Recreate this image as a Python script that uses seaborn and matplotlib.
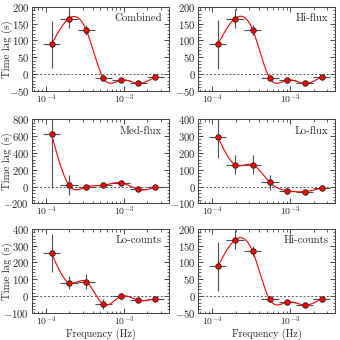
import numpy as np
import pandas as pd
import matplotlib
matplotlib.use("Agg")
import matplotlib.pyplot as plt
import seaborn as sns
from matplotlib.ticker import AutoMinorLocator, MultipleLocator

sns.set_style("ticks")
plt.rcParams['font.family'] = ['cmr10', 'DejaVu Serif']
plt.rcParams['mathtext.fontset'] = 'cm'
plt.rcParams['axes.formatter.use_mathtext'] = True

freq = [1.18e-4, 1.96e-4, 3.3e-4, 5.46e-4, 9.2e-4, 1.54e-3, 2.54e-3]
freq_lo = [0.92e-4, 1.52e-4, 2.55e-4, 4.25e-4, 7.1e-4, 1.19e-3, 1.98e-3]
freq_hi = [1.52e-4, 2.55e-4, 4.25e-4, 7.1e-4, 1.19e-3, 1.98e-3, 3.3e-3]

titles = ["Combined", "Hi-flux", "Med-flux", "Lo-flux", "Lo-counts", "Hi-counts"]
lag_combined = [88, 165, 130, -12, -18, -28, -8]
err_combined = [70, 28, 15, 5, 5, 5, 5]
lag_hiflux = [88, 165, 132, -12, -18, -28, -8]
err_hiflux = [72, 28, 15, 5, 5, 5, 5]
lag_medflux = [620, 20, -5, 15, 45, -35, -10]
err_medflux = [640, 120, 20, 20, 20, 20, 15]
lag_loflux = [295, 130, 130, 25, -25, -30, -10]
err_loflux = [125, 55, 55, 45, 20, 10, 10]
lag_locounts = [255, 80, 85, -50, -2, -25, -15]
err_locounts = [115, 40, 45, 30, 20, 10, 10]
lag_hicounts = [88, 167, 133, -10, -18, -27, -8]
err_hicounts = [72, 28, 15, 5, 5, 5, 5]

lags = [lag_combined, lag_hiflux, lag_medflux, lag_loflux, lag_locounts, lag_hicounts]
errs = [err_combined, err_hiflux, err_medflux, err_loflux, err_locounts, err_hicounts]
ylims = [(-50, 200), (-50, 200), (-200, 800), (-100, 400), (-100, 400), (-50, 200)]
ymaj = [50, 50, 200, 100, 100, 50]


def natural_spline(x, y, xn):
    x = np.asarray(x, float); y = np.asarray(y, float)
    n = len(x)
    h = np.diff(x)
    A = np.zeros((n, n)); b = np.zeros(n)
    A[0, 0] = 1; A[-1, -1] = 1
    for i in range(1, n - 1):
        A[i, i - 1] = h[i - 1]
        A[i, i] = 2 * (h[i - 1] + h[i])
        A[i, i + 1] = h[i]
        b[i] = 3 * ((y[i + 1] - y[i]) / h[i] - (y[i] - y[i - 1]) / h[i - 1])
    c = np.linalg.solve(A, b)
    out = np.empty_like(xn)
    for k, xv in enumerate(xn):
        i = min(max(np.searchsorted(x, xv) - 1, 0), n - 2)
        dx = xv - x[i]
        bi = (y[i + 1] - y[i]) / h[i] - h[i] * (2 * c[i] + c[i + 1]) / 3
        di = (c[i + 1] - c[i]) / (3 * h[i])
        out[k] = y[i] + bi * dx + c[i] * dx ** 2 + di * dx ** 3
    return out


fig = plt.figure(figsize=(3.4, 3.4), dpi=100)
lefts = [0.094, 0.583]
bottoms = [0.733, 0.402, 0.08]
w, hgt = 0.403, 0.247

logf = np.log10(freq)
for k in range(6):
    r, c = divmod(k, 2)
    ax = fig.add_axes([lefts[c], bottoms[r], w, hgt])
    y = np.array(lags[k], float)
    e = np.array(errs[k], float)
    f = np.array(freq)
    xerr = np.array([f - np.array(freq_lo), np.array(freq_hi) - f])
    ax.axhline(0, color='0.35', ls=(0, (2, 2)), lw=0.7, zorder=1)
    ax.errorbar(f, y, yerr=e, xerr=xerr, fmt='none', ecolor='0.3', elinewidth=0.8, capsize=0, zorder=2)
    xs = np.linspace(logf[0], logf[-1], 300)
    ys = natural_spline(logf, y, xs)
    curve = pd.DataFrame({'f': 10 ** xs, 'lag': ys})
    sns.lineplot(data=curve, x='f', y='lag', color='red', lw=0.8, ax=ax, zorder=3)
    pts = pd.DataFrame({'f': f, 'lag': y})
    sns.scatterplot(data=pts, x='f', y='lag', color='red', edgecolor='0.15', linewidth=0.6, s=16, ax=ax, zorder=4)
    ax.set_xscale('log')
    ax.set_xlim(10 ** -4.18, 10 ** -2.42)
    ax.set_ylim(*ylims[k])
    ax.yaxis.set_major_locator(MultipleLocator(ymaj[k]))
    ax.yaxis.set_minor_locator(AutoMinorLocator(5))
    ax.tick_params(which='both', direction='in', top=True, right=True, colors='0.15')
    ax.tick_params(axis='y', labelsize=7.7, pad=2)
    ax.tick_params(axis='x', labelsize=7.0, pad=1)
    ax.tick_params(which='major', length=3.5, width=0.6)
    ax.tick_params(which='minor', length=1.8, width=0.5)
    for s in ax.spines.values():
        s.set_linewidth(0.7); s.set_color('0.25')
    ax.text(0.95, 0.86, titles[k], transform=ax.transAxes, ha='right', va='center', fontsize=7.8)
    ax.set_xlabel('Frequency (Hz)' if r == 2 else '', fontsize=7.3)
    ax.set_ylabel('Time lag (s)' if c == 0 else '', fontsize=7.8)
    ax.yaxis.set_label_coords(-0.14, 0.5)
    ax.xaxis.set_label_coords(0.5, -0.185)

fig.savefig('out.png', dpi=100)
